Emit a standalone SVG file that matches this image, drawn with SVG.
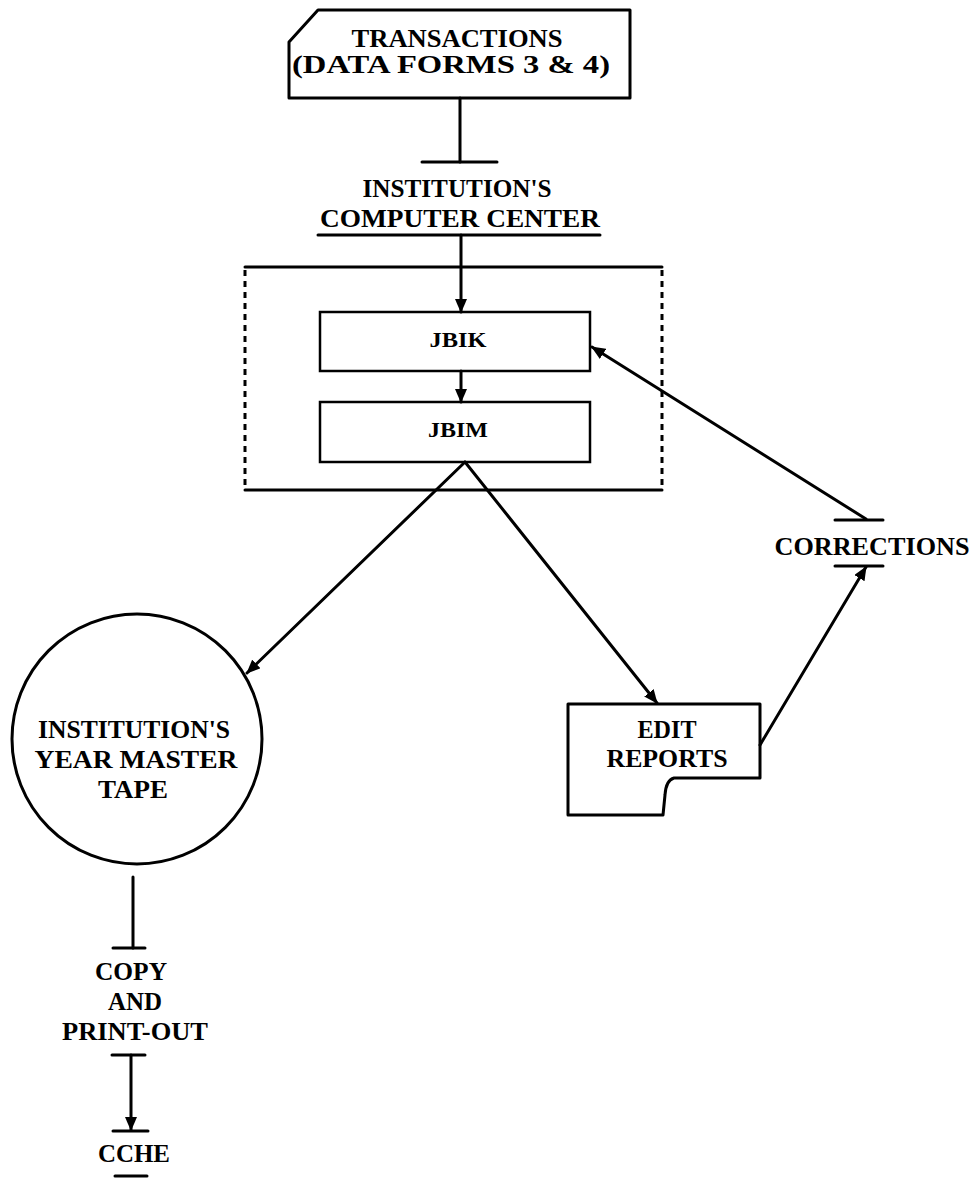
<svg xmlns="http://www.w3.org/2000/svg" width="975" height="1178" viewBox="0 0 975 1178">
<defs>
<marker id="ah" markerUnits="userSpaceOnUse" markerWidth="14" markerHeight="12" refX="13" refY="6" orient="auto">
<path d="M0,0 L14,6 L0,12 z" fill="#000"/>
</marker>
<style>
.t{font-family:"Liberation Serif","DejaVu Serif",serif;font-weight:bold;font-size:26px;text-anchor:middle;fill:#000}
.s{font-size:22px}
.box{fill:#fff;stroke:#000;stroke-width:3;stroke-linejoin:round}
.thin{fill:#fff;stroke:#000;stroke-width:2.5}
.ln{fill:none;stroke:#000;stroke-width:3;stroke-linecap:round}
.dash{fill:none;stroke:#000;stroke-width:3;stroke-dasharray:6 5}
</style>
</defs>
<rect width="975" height="1178" fill="#fff"/>

<g id="transactions">
<path class="box" d="M318,10 L630,10 L630,98 L289,98 L289,42 Z"/>
<text class="t" x="457" y="47" textLength="211" lengthAdjust="spacingAndGlyphs">TRANSACTIONS</text>
<text class="t" x="451" y="73" textLength="318" lengthAdjust="spacingAndGlyphs">(DATA FORMS 3 &amp; 4)</text>
</g>

<g id="computer-center">
<line class="ln" x1="422" y1="162" x2="497" y2="162"/>
<text class="t" x="457" y="197" textLength="189" lengthAdjust="spacingAndGlyphs">INSTITUTION'S</text>
<text class="t" x="460" y="227" textLength="280" lengthAdjust="spacingAndGlyphs">COMPUTER CENTER</text>
<line class="ln" x1="318" y1="235" x2="600" y2="235"/>
</g>

<g id="processing">
<line class="ln" x1="245" y1="267" x2="662" y2="267"/>
<line class="ln" x1="245" y1="490" x2="662" y2="490"/>
<line class="dash" x1="245" y1="270" x2="245" y2="488"/>
<line class="dash" x1="662" y1="270" x2="662" y2="488"/>
</g>

<g id="jbik">
<rect class="thin" x="320" y="312" width="270" height="59"/>
<text class="t s" x="458" y="347" textLength="57" lengthAdjust="spacingAndGlyphs">JBIK</text>
</g>

<g id="jbim">
<rect class="thin" x="320" y="402" width="270" height="60"/>
<text class="t s" x="458" y="437" textLength="60" lengthAdjust="spacingAndGlyphs">JBIM</text>
</g>

<g id="master-tape">
<circle class="box" cx="137" cy="739" r="125"/>
<text class="t" x="134" y="738" textLength="192" lengthAdjust="spacingAndGlyphs">INSTITUTION'S</text>
<text class="t" x="136" y="768" textLength="203" lengthAdjust="spacingAndGlyphs">YEAR MASTER</text>
<text class="t" x="133" y="798" textLength="70" lengthAdjust="spacingAndGlyphs">TAPE</text>
</g>

<g id="edit-reports">
<path class="box" d="M568,704 L760,704 L760,778 L674,778 Q666,780 665,795 L663,815 L568,815 Z"/>
<text class="t" x="667" y="738" textLength="59" lengthAdjust="spacingAndGlyphs">EDIT</text>
<text class="t" x="667" y="767" textLength="121" lengthAdjust="spacingAndGlyphs">REPORTS</text>
</g>

<g id="corrections">
<line class="ln" x1="835" y1="520" x2="883" y2="520"/>
<text class="t" x="872" y="555" textLength="195" lengthAdjust="spacingAndGlyphs">CORRECTIONS</text>
<line class="ln" x1="835" y1="566" x2="883" y2="566"/>
</g>

<g id="copy-printout">
<line class="ln" x1="113" y1="948" x2="145" y2="948"/>
<text class="t" x="131" y="980" textLength="72" lengthAdjust="spacingAndGlyphs">COPY</text>
<text class="t" x="135" y="1010" textLength="54" lengthAdjust="spacingAndGlyphs">AND</text>
<text class="t" x="135" y="1040" textLength="146" lengthAdjust="spacingAndGlyphs">PRINT-OUT</text>
<line class="ln" x1="112" y1="1055" x2="145" y2="1055"/>
</g>

<g id="cche">
<line class="ln" x1="113" y1="1131" x2="148" y2="1131"/>
<text class="t" x="134" y="1162" textLength="72" lengthAdjust="spacingAndGlyphs">CCHE</text>
<line class="ln" x1="115" y1="1176" x2="147" y2="1176"/>
</g>

<g id="connectors">
<line class="ln" x1="460" y1="98" x2="460" y2="162"/>
<line class="ln" x1="461" y1="235" x2="461" y2="312" marker-end="url(#ah)"/>
<line class="ln" x1="461" y1="371" x2="461" y2="402" marker-end="url(#ah)"/>
<line class="ln" x1="465" y1="462" x2="247" y2="673" marker-end="url(#ah)"/>
<line class="ln" x1="465" y1="462" x2="657" y2="703" marker-end="url(#ah)"/>
<line class="ln" x1="760" y1="745" x2="866" y2="567" marker-end="url(#ah)"/>
<line class="ln" x1="866" y1="519" x2="592" y2="347" marker-end="url(#ah)"/>
<line class="ln" x1="133" y1="877" x2="133" y2="948"/>
<line class="ln" x1="131" y1="1055" x2="131" y2="1130" marker-end="url(#ah)"/>
</g>
</svg>
